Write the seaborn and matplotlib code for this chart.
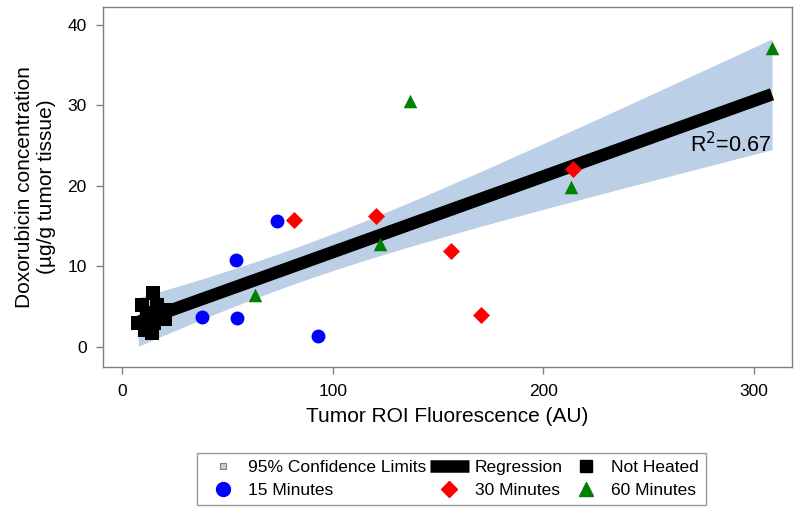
import matplotlib
matplotlib.use('Agg')
import matplotlib.pyplot as plt
from matplotlib.lines import Line2D
import numpy as np
import pandas as pd
import seaborn as sns

sns.set_style('white')
plt.rcParams['font.family'] = ['Liberation Sans', 'DejaVu Sans']
plt.rcParams['text.color'] = 'black'
plt.rcParams['axes.labelcolor'] = 'black'

# data
not_heated_x = [9.3, 14.7, 16.5, 20.4, 20.4, 7.7, 11.7, 14.9, 10.9, 14.1, 18.0]
not_heated_y = [5.2, 6.7, 5.2, 4.6, 3.4, 2.9, 4.2, 3.0, 2.1, 1.7, 4.0]
min15_x = [73.6, 54.1, 37.8, 54.7, 93.2]
min15_y = [15.6, 10.8, 3.7, 3.6, 1.4]
min30_x = [81.6, 120.4, 156.0, 170.2, 213.9]
min30_y = [15.8, 16.2, 11.9, 4.0, 22.1]
min60_x = [63.1, 122.4, 136.7, 213.0, 308.5]
min60_y = [6.4, 12.8, 30.6, 19.9, 37.1]

groups = ['Not Heated', '15 Minutes', '30 Minutes', '60 Minutes']
colors = {'Not Heated': 'black', '15 Minutes': '#0000FF',
          '30 Minutes': '#FF0000', '60 Minutes': '#008000'}
markers = {'Not Heated': 's', '15 Minutes': 'o',
           '30 Minutes': 'D', '60 Minutes': '^'}
band_color = '#BBCFE7'

df = pd.concat([
    pd.DataFrame({'x': not_heated_x, 'y': not_heated_y, 'group': 'Not Heated'}),
    pd.DataFrame({'x': min15_x, 'y': min15_y, 'group': '15 Minutes'}),
    pd.DataFrame({'x': min30_x, 'y': min30_y, 'group': '30 Minutes'}),
    pd.DataFrame({'x': min60_x, 'y': min60_y, 'group': '60 Minutes'}),
], ignore_index=True)

# linear fit with 95% confidence limits of the mean
x = df['x'].values
y = df['y'].values
n = len(x)
b1, b0 = np.polyfit(x, y, 1)
resid = y - (b0 + b1 * x)
s = np.sqrt(np.sum(resid ** 2) / (n - 2))
xg = np.linspace(x.min(), x.max(), 200)
yg = b0 + b1 * xg
se = s * np.sqrt(1 / n + (xg - x.mean()) ** 2 / np.sum((x - x.mean()) ** 2))
tval = 2.042  # t(0.975, ~30 df)

fig = plt.figure(figsize=(8, 5.11), dpi=100)
ax = fig.add_axes([0.129, 0.282, 0.861, 0.704])

ax.fill_between(xg, yg - tval * se, yg + tval * se, color=band_color, lw=0, zorder=1)
ax.plot(xg, yg, color='black', lw=9, solid_capstyle='butt', zorder=2)

sizes = {'Not Heated': 110, '15 Minutes': 100, '30 Minutes': 75, '60 Minutes': 95}
for g in groups:
    sub = df[df['group'] == g]
    sns.scatterplot(data=sub, x='x', y='y', color=colors[g], marker=markers[g],
                    s=sizes[g], linewidth=0, ax=ax, zorder=3, legend=False)

ax.text(308, 25.1, 'R$^2$=0.67', ha='right', va='center', fontsize=15.5)

ax.set_xlim(-9, 318)
ax.set_ylim(-2.5, 42.2)
ax.set_xticks([0, 100, 200, 300])
ax.set_yticks([0, 10, 20, 30, 40])
ax.tick_params(axis='both', direction='out', length=5, width=1, color='#808080',
               labelcolor='black', labelsize=12.5, pad=7, bottom=True, left=True)
for sp in ax.spines.values():
    sp.set_color('#808080')
    sp.set_linewidth(1)
ax.set_xlabel('Tumor ROI Fluorescence (AU)', fontsize=15, labelpad=6)
ax.set_ylabel('Doxorubicin concentration\n(µg/g tumor tissue)', fontsize=15, labelpad=8)

handles = [
    Line2D([], [], ls='none', marker='s', markersize=5, markerfacecolor=band_color,
           markeredgecolor='#808080', markeredgewidth=0.8),
    Line2D([], [], ls='none', marker='o', markersize=10, color=colors['15 Minutes']),
    Line2D([], [], color='black', lw=9, solid_capstyle='butt'),
    Line2D([], [], ls='none', marker='D', markersize=8, color=colors['30 Minutes']),
    Line2D([], [], ls='none', marker='s', markersize=9, color='black'),
    Line2D([], [], ls='none', marker='^', markersize=10, color=colors['60 Minutes']),
]
labels = ['95% Confidence Limits', '15 Minutes', 'Regression', '30 Minutes',
          'Not Heated', '60 Minutes']
leg = fig.legend(handles, labels, loc='upper center', bbox_to_anchor=(0.564, 0.114),
                 borderaxespad=0, ncol=3, fontsize=12.5, frameon=True, fancybox=False,
                 handlelength=2.2, handletextpad=0.35, columnspacing=0.25,
                 borderpad=0.4, labelspacing=0.45)
leg.get_frame().set_edgecolor('#808080')
leg.get_frame().set_linewidth(1)

fig.savefig('out.png', dpi=100)
